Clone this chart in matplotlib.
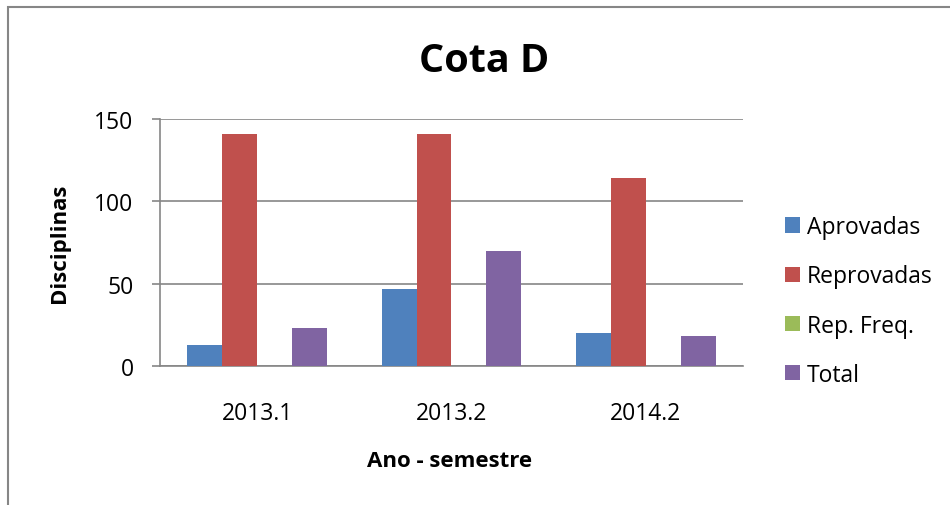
import numpy as np
import matplotlib.pyplot as plt
from matplotlib.patches import Rectangle

plt.rcParams['font.family'] = ['Open Sans', 'DejaVu Sans']

# Data
semesters = ['2013.1', '2013.2', '2014.2']
series_names = ['Aprovadas', 'Reprovadas', 'Rep. Freq.', 'Total']
aprovadas = [13, 47, 20]
reprovadas = [141, 141, 114]
rep_freq = [0, 0, 0]
total = [23, 70, 18]
colors = ['#4F81BD', '#C0504D', '#9BBB59', '#8064A2']

all_series = [aprovadas, reprovadas, rep_freq, total]

fig = plt.figure(figsize=(9.5, 5.06), dpi=100)
W, H = 950, 506
ax = fig.add_axes([160 / W, 1 - 367 / H, (743 - 160) / W, (367 - 120) / H])

x = np.arange(len(semesters))
bar_w = 0.18
for i, (vals, name, c) in enumerate(zip(all_series, series_names, colors)):
    ax.bar(x + (i - 1.5) * bar_w, vals, width=bar_w, color=c, label=name,
           edgecolor='none', zorder=3)

ax.set_xlim(-0.5, 2.5)
ax.set_ylim(0, 150)
ax.set_yticks([0, 50, 100, 150])
ax.set_xticks(x)
ax.set_xticklabels(semesters)

grid_c = '#868686'
ax.yaxis.grid(True, color=grid_c, linewidth=1.2, zorder=0)
for s in ['top', 'right']:
    ax.spines[s].set_visible(False)
for s in ['left', 'bottom']:
    ax.spines[s].set_color(grid_c)
    ax.spines[s].set_linewidth(1.2)
ax.tick_params(axis='y', length=6, width=1.2, color=grid_c, pad=13, labelsize=16.5)
ax.tick_params(axis='x', length=0, pad=25, labelsize=16.5)

# Titles and axis labels
fig.text(484 / W, 1 - 61 / H, 'Cota D', ha='center', va='center',
         fontsize=28.5, fontweight='bold')
fig.text(450 / W, 1 - 462 / H, 'Ano - semestre', ha='center', va='center',
         fontsize=16, fontweight='bold')
fig.text(60 / W, 1 - 243 / H, 'Disciplinas', ha='center', va='center',
         rotation=90, fontsize=16, fontweight='bold')

fig.legend(loc='center left', bbox_to_anchor=(785 / W, 1 - 302 / H),
           frameon=False, fontsize=16.5, handlelength=0.66, handleheight=0.66,
           handletextpad=0.3, labelspacing=1.1, borderpad=0, borderaxespad=0)

# Outer chart frame (only top and left edges are visible in the crop)
fig.patches.append(Rectangle((8 / W, -0.2), 1.2, 1.2 - 8 / H,
                             transform=fig.transFigure, fill=False,
                             edgecolor=grid_c, linewidth=1.5))

fig.savefig('out.png', dpi=100)
